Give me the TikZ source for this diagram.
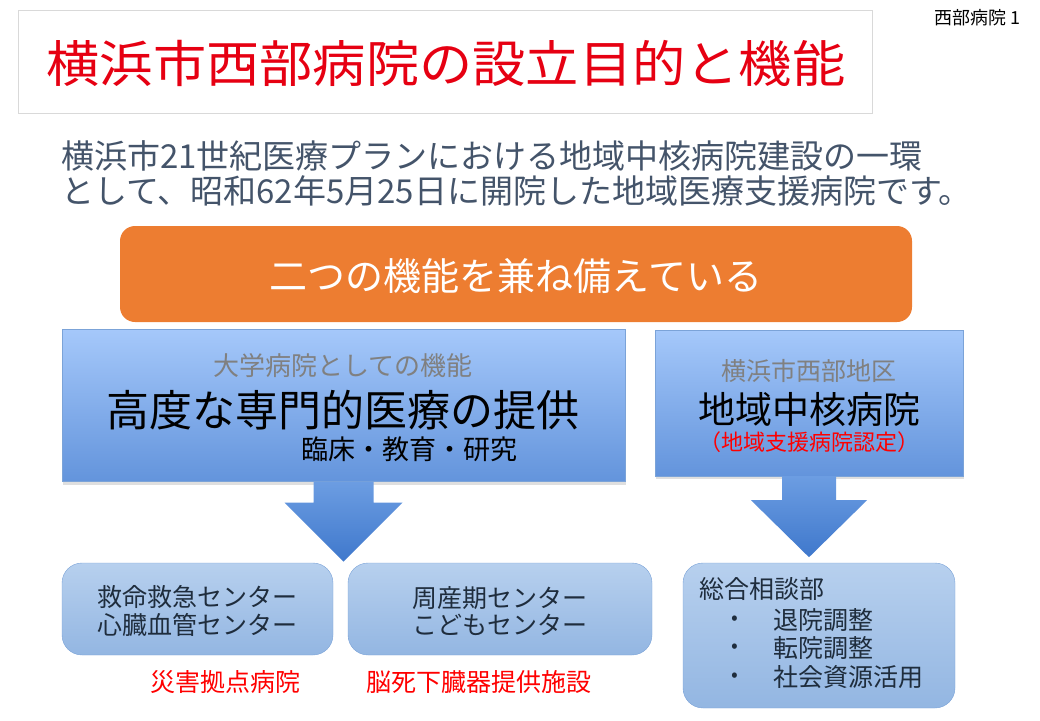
\documentclass[tikz,border=0pt]{standalone}
\usepackage{fontspec}
\setmainfont{Noto Sans CJK JP}
\newfontfamily\widefont[FakeStretch=1.065]{Noto Sans CJK JP}
\usepackage{tikz}
\usetikzlibrary{positioning,calc,shadows}
\definecolor{titlered}{HTML}{E60012}
\definecolor{slate}{HTML}{44546A}
\definecolor{boxorange}{HTML}{ED7D31}
\definecolor{bluetop}{HTML}{A5C8FA}
\definecolor{bluebot}{HTML}{6394DC}
\definecolor{blueline}{HTML}{7BA3D8}
\definecolor{paletop}{HTML}{B7D0EE}
\definecolor{palebot}{HTML}{93B6E2}
\definecolor{arrtop}{HTML}{6C9DE2}
\definecolor{arrbot}{HTML}{3F78CC}
\definecolor{darktext}{HTML}{1F2D3D}
\newcommand{\fs}[1]{\fontsize{#1}{#1}\selectfont}

\begin{document}
\begin{tikzpicture}[x=1pt,y=-1pt]
\tikzstyle{bigbox}=[draw=blueline,top color=bluetop,bottom color=bluebot,inner sep=0pt,
  drop shadow={opacity=0.25,shadow xshift=1pt,shadow yshift=-3pt}]
\tikzstyle{subbox}=[draw=blueline,top color=paletop,bottom color=palebot,rounded corners=20pt,inner sep=0pt]
\tikzstyle{downarrow}=[draw=none,top color=arrtop,bottom color=arrbot]
\tikzstyle{label}=[inner sep=0pt,anchor=center]
\useasboundingbox (0,0) rectangle (1040,720);

% title
\node [draw=black!15,minimum width=854pt,minimum height=103pt,inner sep=0pt] (title) at (445,61.5) {};
\node [label,text=titlered] (titletext) at (446,63) {\widefont\fs{50}横浜市西部病院の設立目的と機能};
\node [label,anchor=east] (page) at (1021,18) {\fs{18}西部病院 1};

% lead text
\node [label,anchor=west,text=slate] (lead1) at (61,156) {\fs{33}横浜市21世紀医療プランにおける地域中核病院建設の一環};
\node [label,anchor=west,text=slate] (lead2) at (61,191) {\fs{33}として、昭和62年5月25日に開院した地域医療支援病院です。};

% two functions
\node [fill=boxorange,rounded corners=15pt,minimum width=792pt,minimum height=96pt,inner sep=0pt] (two) at (516,274) {};
\node [label,text=white] (twotext) at (516,276) {\fs{38}二つの機能を兼ね備えている};

% university hospital
\node [bigbox,minimum width=563pt,minimum height=152pt] (univ) at (343.5,405.5) {};
\node [label,text=black!50] (univsub) at (343,366) {\fs{26}大学病院としての機能};
\node [label] (univmain) at (343,410) {\fs{43}高度な専門的医療の提供};
\node [label] (univnote) at (409,449) {\fs{27}臨床・教育・研究};

% regional core hospital
\node [bigbox,minimum width=308pt,minimum height=146pt] (core) at (809,403) {};
\node [label,text=black!50] (coresub) at (809,371) {\fs{25}横浜市西部地区};
\node [label] (coremain) at (809,409) {\fs{37}地域中核病院};
\node [label,text=red] (corenote) at (809,442) {\fs{22}（地域支援病院認定）};

% arrows
\draw [downarrow] ($(univ.south)+(-30,0)$) -- ($(univ.south)+(30,0)$) -- ($(univ.south)+(30,21)$)
  -- ($(univ.south)+(59,21)$) -- ($(univ.south)+(0,80)$) -- ($(univ.south)+(-59,21)$)
  -- ($(univ.south)+(-30,21)$) -- cycle;
\draw [downarrow] ($(core.south)+(-27,0)$) -- ($(core.south)+(27,0)$) -- ($(core.south)+(27,24)$)
  -- ($(core.south)+(58,24)$) -- ($(core.south)+(0,81)$) -- ($(core.south)+(-58,24)$)
  -- ($(core.south)+(-27,24)$) -- cycle;

% centers
\node [subbox,minimum width=271pt,minimum height=92pt] (er) at (197.5,609) {};
\node [label,text=darktext,align=center] (ertext) at (197.5,611) {\fs{25}救命救急センター\\[3pt]\fs{25}心臓血管センター};
\node [subbox,minimum width=304pt,minimum height=92pt] (peri) at (500,609) {};
\node [label,text=darktext,align=center] (peritext) at (500,611) {\fs{25}周産期センター\\[3pt]\fs{25}こどもセンター};
\node [subbox,minimum width=272pt,minimum height=145pt] (consult) at (819,635.5) {};
\node [label,anchor=west,text=darktext] (consulthead) at (699,589) {\fs{25}総合相談部};
\foreach \y/\t in {620/退院調整,648/転院調整,677/社会資源活用} {
  \node [label,text=darktext] at (735,\y) {\fs{20}•};
  \node [label,anchor=west,text=darktext] at (773,\y) {\fs{25}\t};
}

% designations
\node [label,text=red] (disaster) at (225,682) {\fs{25}災害拠点病院};
\node [label,text=red] (organ) at (479,682) {\fs{25}脳死下臓器提供施設};
\end{tikzpicture}
\end{document}
